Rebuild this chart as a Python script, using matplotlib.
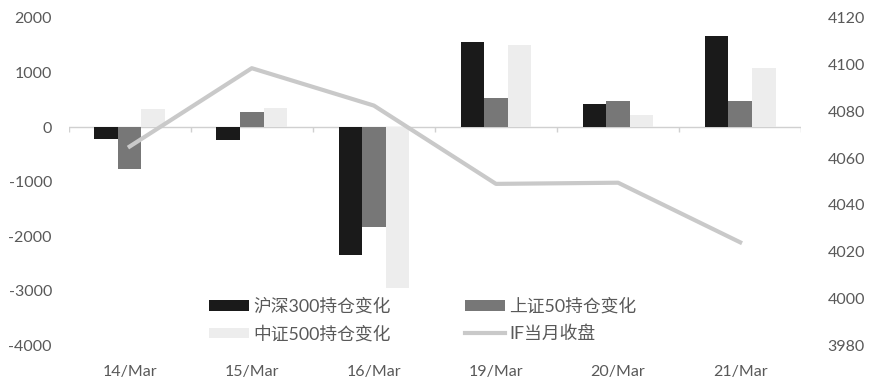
#!/usr/bin/env python3
"""Open-interest changes (bars, left axis) vs IF front-month close (line, right axis) -> out.png."""

import matplotlib

matplotlib.use("Agg")
import matplotlib.pyplot as plt  # noqa: E402
import numpy as np  # noqa: E402

dates = ["14/Mar", "15/Mar", "16/Mar", "19/Mar", "20/Mar", "21/Mar"]
hs300_chg = [-220, -240, -2345, 1560, 420, 1665]
sz50_chg = [-770, 280, -1830, 530, 475, 475]
zz500_chg = [330, 350, -2950, 1500, 220, 1080]
if_close = [4065, 4098.5, 4082.5, 4049, 4049.5, 4024]

bar_names = ["沪深300持仓变化", "上证50持仓变化", "中证500持仓变化"]
line_name = "IF当月收盘"
COLORS = ["#1a1a1a", "#777777", "#ededed"]
LINE_C = "#c9c9c9"
TXT = "#595959"

plt.rcParams["font.family"] = ["Lato", "Noto Sans CJK SC", "DejaVu Sans"]
plt.rcParams["axes.unicode_minus"] = False


def main():
    fig = plt.figure(figsize=(8.69, 3.9), dpi=100)
    ax = fig.add_axes([0.079, 0.115, 0.843, 0.839])
    x = np.arange(len(dates))
    w = 0.193
    series = [hs300_chg, sz50_chg, zz500_chg]
    handles = []
    for i, vals in enumerate(series):
        b = ax.bar(x + (i - 1) * w, vals, w, color=COLORS[i], label=bar_names[i], zorder=2)
        handles.append(b)

    ax.set_xlim(-0.5, len(dates) - 0.5)
    ax.set_ylim(-4000, 2000)
    ax.set_yticks(np.arange(-4000, 2001, 1000))
    ax.axhline(0, color="#d0d0d0", lw=1, zorder=1)
    # category boundary tick marks hanging under the zero line
    ax.vlines(np.arange(len(dates) + 1) - 0.5, -90, 0, color="#d0d0d0", lw=1, zorder=1)
    ax.set_xticks(x, dates)
    for s in ax.spines.values():
        s.set_visible(False)
    ax.tick_params(axis="both", length=0, labelsize=11.5, colors=TXT)
    ax.tick_params(axis="x", pad=14)
    ax.tick_params(axis="y", pad=12)

    ax2 = ax.twinx()
    ln, = ax2.plot(x, if_close, color=LINE_C, lw=3, label=line_name, zorder=3)
    ax2.set_ylim(3980, 4120)
    ax2.set_yticks(np.arange(3980, 4121, 20))
    for s in ax2.spines.values():
        s.set_visible(False)
    ax2.tick_params(axis="y", length=0, labelsize=11.5, colors=TXT, pad=19)

    # legend fills column-wise: reorder so rows read as in the original
    leg = ax2.legend([handles[0], handles[2], handles[1], ln],
                     [bar_names[0], bar_names[2], bar_names[1], line_name],
                     ncol=2, frameon=False, loc="lower left",
                     bbox_to_anchor=(0.17, -0.04), fontsize=12.8,
                     handlelength=2.25, handleheight=0.5, handletextpad=0.25,
                     columnspacing=4.15, labelspacing=0.6)
    for t in leg.get_texts():
        t.set_color(TXT)

    fig.savefig("out.png", dpi=100)
    plt.close(fig)


if __name__ == "__main__":
    main()
